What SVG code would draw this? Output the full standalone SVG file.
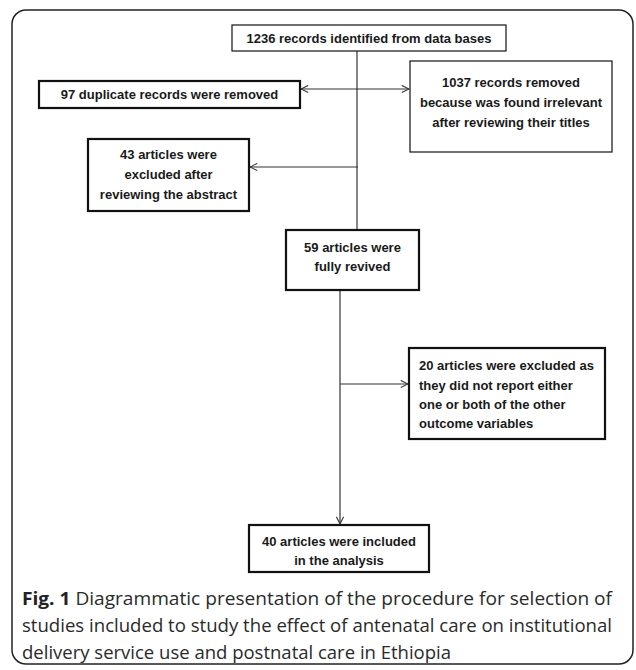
<svg xmlns="http://www.w3.org/2000/svg" width="636" height="670" viewBox="0 0 636 670">
<style>
.box{fill:#fff;stroke:#111;stroke-width:1.2}
.tbox{fill:#fff;stroke:#111;stroke-width:2.2}
.lbl{font-family:"Liberation Sans",Arial,sans-serif;font-weight:bold;font-size:13px;fill:#1a1a1a}
.c{text-anchor:middle}
.conn{stroke:#333;stroke-width:1.2;fill:none}
.cap{font-family:"Open Sans","Noto Sans",sans-serif;font-size:18.5px;fill:#2a2a2a}
</style>
<defs>
<marker id="ah" viewBox="0 0 10 10" refX="9" refY="5" markerWidth="9" markerHeight="9" markerUnits="userSpaceOnUse" orient="auto-start-reverse">
<path d="M1,1 L9,5 L1,9" fill="none" stroke="#333" stroke-width="1.2"/>
</marker>
</defs>
<rect x="12" y="10" width="621" height="654" rx="14" fill="#fff" stroke="#222" stroke-width="1.5"/>
<g id="connectors">
<line class="conn" x1="357" y1="51" x2="357" y2="230"/>
<line class="conn" x1="301" y1="89" x2="409" y2="89" marker-start="url(#ah)" marker-end="url(#ah)"/>
<line class="conn" x1="358" y1="167" x2="250" y2="167" marker-end="url(#ah)"/>
<line class="conn" x1="340" y1="291" x2="340" y2="524" marker-end="url(#ah)"/>
<line class="conn" x1="340" y1="384" x2="408" y2="384" marker-end="url(#ah)"/>
</g>
<g id="n1236">
<rect class="box" x="232" y="25" width="274" height="26"/>
<text class="lbl c" x="369" y="42.5">1236 records identified from data bases</text>
</g>
<g id="n97">
<rect class="tbox" x="39" y="81" width="261" height="27"/>
<text class="lbl c" x="169.5" y="99">97 duplicate records were  removed</text>
</g>
<g id="n1037">
<rect class="box" x="410" y="61" width="202" height="91"/>
<text class="lbl c" x="511" y="87">1037 records removed</text>
<text class="lbl c" x="511" y="107">because was found irrelevant</text>
<text class="lbl c" x="511" y="127">after reviewing their titles</text>
</g>
<g id="n43">
<rect class="tbox" x="88" y="139" width="161" height="72"/>
<text class="lbl c" x="168.5" y="159">43 articles were</text>
<text class="lbl c" x="168.5" y="179">excluded after</text>
<text class="lbl c" x="168.5" y="199">reviewing the abstract</text>
</g>
<g id="n59">
<rect class="tbox" x="286" y="230" width="133" height="60"/>
<text class="lbl c" x="352.5" y="252">59 articles were</text>
<text class="lbl c" x="352.5" y="271">fully revived</text>
</g>
<g id="n20">
<rect class="tbox" x="409" y="348" width="196" height="91"/>
<text class="lbl" x="419" y="370">20 articles were excluded as</text>
<text class="lbl" x="419" y="390">they did not report either</text>
<text class="lbl" x="419" y="409">one or both of the other</text>
<text class="lbl" x="419" y="428">outcome variables</text>
</g>
<g id="n40">
<rect class="tbox" x="249" y="525" width="180" height="47"/>
<text class="lbl c" x="339" y="546">40 articles were included</text>
<text class="lbl c" x="339" y="565">in the analysis</text>
</g>
<g id="caption">
<text class="cap" x="22" y="605" textLength="590" lengthAdjust="spacingAndGlyphs"><tspan font-weight="bold" fill="#222">Fig. 1</tspan> Diagrammatic presentation of the procedure for selection of</text>
<text class="cap" x="22" y="632" textLength="590" lengthAdjust="spacingAndGlyphs">studies included to study the effect of antenatal care on institutional</text>
<text class="cap" x="22" y="659">delivery service use and postnatal care in Ethiopia</text>
</g>
</svg>
